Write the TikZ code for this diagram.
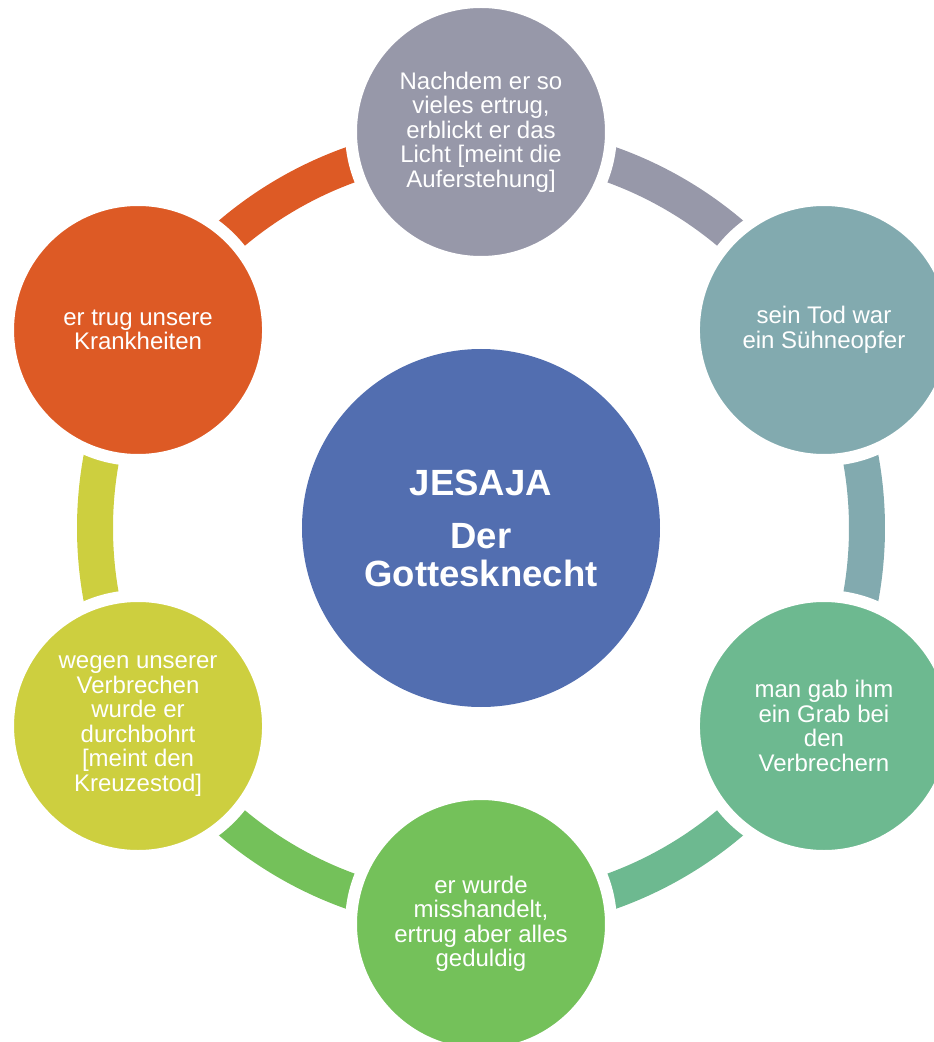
\documentclass[tikz,border=0pt]{standalone}
\usepackage{fontspec}
\setmainfont{Liberation Sans}

\definecolor{cblue}{RGB}{82,110,176}
\definecolor{cgray}{RGB}{151,152,169}
\definecolor{cteal}{RGB}{130,170,175}
\definecolor{cmint}{RGB}{109,185,144}
\definecolor{cgreen}{RGB}{116,193,90}
\definecolor{cyellow}{RGB}{205,207,63}
\definecolor{corange}{RGB}{221,90,37}

\begin{document}
\begin{tikzpicture}[x=1pt,y=1pt,
  ring/.style={line width=36pt},
  bubble/.style={circle,fill=#1,draw=white,line width=12pt,minimum size=260pt,
    inner sep=0pt,text=white,align=center,font=\fontsize{24}{24.5}\selectfont}]

\useasboundingbox (-481,-514) rectangle (453,528);
\clip (-481,-514) rectangle (453,528);

\coordinate (P1) at (90:396);
\coordinate (P2) at (30:396);
\coordinate (P3) at (-30:396);
\coordinate (P4) at (-90:396);
\coordinate (P5) at (-150:396);
\coordinate (P6) at (150:396);

\coordinate (R1) at (90:386);
\coordinate (R2) at (30:386);
\coordinate (R3) at (-30:386);
\coordinate (R4) at (-90:386);
\coordinate (R5) at (-150:386);
\coordinate (R6) at (150:386);

\foreach \i/\a/\c in {1/90/cgray,2/30/cteal,3/-30/cmint,4/-90/cgreen,5/-150/cyellow,6/150/corange}
{
  \draw[ring,\c] (R\i) arc[start angle=\a, delta angle=-60, radius=386];
}

\node[bubble=cgray] (S1) at (P1) {Nachdem er so\\vieles ertrug,\\erblickt er das\\Licht [meint die\\Auferstehung]};
\node[bubble=cteal] (S2) at (P2) {sein Tod war\\ein Sühneopfer};
\node[bubble=cmint] (S3) at (P3) {man gab ihm\\ein Grab bei\\den\\Verbrechern};
\node[bubble=cgreen] (S4) at (P4) {er wurde\\misshandelt,\\ertrug aber alles\\geduldig};
\node[bubble=cyellow] (S5) at (P5) {wegen unserer\\Verbrechen\\wurde er\\durchbohrt\\{}[meint den\\Kreuzestod]};
\node[bubble=corange] (S6) at (P6) {er trug unsere\\Krankheiten};

\node[circle,fill=cblue,minimum size=358pt,inner sep=0pt,text=white,align=center,
  font=\bfseries\fontsize{36.5}{38}\selectfont] (C) at (0,0) {JESAJA\\[15pt]Der\\Gottesknecht};

\end{tikzpicture}
\end{document}
